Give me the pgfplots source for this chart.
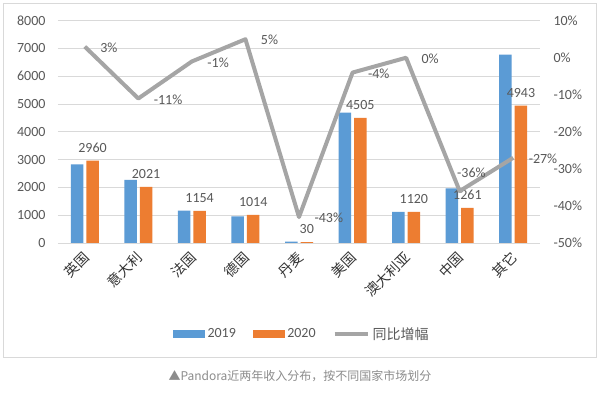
\documentclass[border=0pt]{standalone}
\usepackage{pgfplots}
\usepackage{pgfplotstable}
\pgfplotsset{compat=1.18}
\usepackage{fontspec}
\setmainfont{Carlito}
\newfontfamily\cjk{Noto Sans CJK SC}
\definecolor{cblue}{HTML}{5B9BD5}
\definecolor{corange}{HTML}{ED7D31}
\definecolor{cgray}{HTML}{A5A5A5}
\definecolor{gridc}{HTML}{D9D9D9}
\definecolor{txt}{HTML}{595959}

\pgfplotstableread{
x y2019 y2020
0 2830 2960
1 2270 2021
2 1166 1154
3 960 1014
4 53 30
5 4690 4505
6 1120 1120
7 1970 1261
8 6780 4943
}\revenue

\pgfplotstableread{
x g
0 3
1 -11
2 -1
3 5
4 -43
5 -4
6 0
7 -36
8 -27
}\growth

\pgfplotstableread{
x g
0 3
1 -11
2 -1
3 5
4 -43
5 -4
6 0
8 -27
}\growthA

\pgfplotstableread{
x g
7 -36
}\growthB

\begin{document}
\begin{tikzpicture}
\useasboundingbox (0,0) rectangle (600pt,395pt);
\fill[white] (0,0) rectangle (600pt,395pt);
\draw[gridc, line width=1pt] (3.5pt,37.5pt) rectangle (596pt,391.5pt);
\begin{axis}[
  at={(58pt,152pt)}, anchor=south west, scale only axis,
  width=482pt, height=222.3pt,
  xmin=-0.5, xmax=8.5, ymin=0, ymax=8000,
  ytick={0,1000,...,8000}, xtick={0,...,8},
  xticklabels={英国,意大利,法国,德国,丹麦,美国,澳大利亚,中国,其它},
  xticklabel shift=10pt,
  xticklabel style={font=\cjk\fontsize{14}{16}\selectfont, text=black!80, xshift=3pt, rotate=45, anchor=east, inner sep=2pt},
  yticklabel style={font=\fontsize{14}{16}\selectfont, text=txt, xshift=-9pt},
  /pgf/number format/assume math mode=true, /pgf/number format/1000 sep={},
  ymajorgrids, grid style={gridc, line width=0.8pt},
  axis line style={draw=none}, major tick length=0pt,
  ybar, bar width=12.5pt,
  nodes near coords style={font=\fontsize{14}{16}\selectfont, text=txt, yshift=5pt},
]
\addplot[fill=cblue, draw=none, bar shift=-7.75pt] table[x=x,y=y2019]{\revenue};
\addplot[fill=corange, draw=none, bar shift=7.75pt, nodes near coords] table[x=x,y=y2020]{\revenue};
\end{axis}
\begin{axis}[
  at={(58pt,152pt)}, anchor=south west, scale only axis,
  width=482pt, height=222.3pt,
  xmin=-0.5, xmax=8.5, ymin=-50, ymax=10,
  axis y line*=right, axis x line=none,
  ytick={-50,-40,...,10},
  yticklabels={-50\%,-40\%,-30\%,-20\%,-10\%,0\%,10\%},
  yticklabel style={font=\fontsize{14}{16}\selectfont, text=txt, xshift=10pt},
  axis line style={draw=none}, major tick length=0pt,
  legend style={at={(0.506,-0.409)}, anchor=center, draw=none, fill=none,
    legend columns=-1, font=\fontsize{14}{16}\selectfont, text=txt,
    /tikz/every even column/.append style={column sep=15pt},
    /tikz/every odd column/.append style={column sep=1pt}},
  legend entries={2019,2020,{\cjk 同比增幅}},
  nodes near coords style={font=\fontsize{14}{16}\selectfont, text=txt},
]
\addlegendimage{legend image code/.code={\fill[cblue] (0pt,-3.5pt) rectangle (31pt,3.5pt);}}
\addlegendimage{legend image code/.code={\fill[corange] (0pt,-3.5pt) rectangle (31pt,3.5pt);}}
\addplot[cgray, line width=4pt, line join=round, mark=none,
  legend image code/.code={\draw[cgray, line width=4pt] (0pt,0pt) -- (33pt,0pt);}]
  table[x=x,y=g]{\growth};
\addplot[draw=none, mark=none, point meta=explicit symbolic,
  nodes near coords={\pgfplotspointmeta\%},
  every node near coord/.append style={anchor=west, xshift=12pt, yshift=-1pt}]
  table[x=x,y=g,meta=g]{\growthA};
\addplot[draw=none, mark=none, point meta=explicit symbolic,
  nodes near coords={\pgfplotspointmeta\%},
  every node near coord/.append style={anchor=south west, xshift=-6pt, yshift=10pt}]
  table[x=x,y=g,meta=g]{\growthB};
\end{axis}
\node[font=\cjk\fontsize{12}{14}\selectfont, text=black!45] at (300pt,19pt) {▲Pandora近两年收入分布，按不同国家市场划分};
\end{tikzpicture}
\end{document}
